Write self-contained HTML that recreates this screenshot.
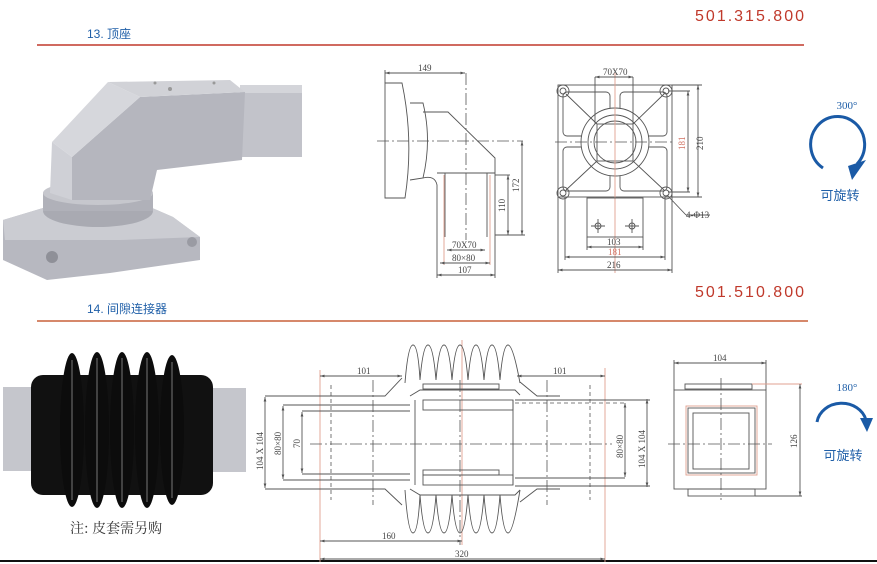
<!DOCTYPE html>
<html><head><meta charset="utf-8"><style>
html,body{margin:0;padding:0;background:#fff;}
svg{display:block;}
.d{stroke:#555;stroke-width:0.9;fill:none;}
.r{stroke:#e0a090;stroke-width:0.9;fill:none;}
.c{stroke:#555;stroke-width:0.8;fill:none;stroke-dasharray:12 3 2 3;}
.dash{stroke:#555;stroke-width:0.8;fill:none;stroke-dasharray:4 3;}
.t{font-family:"Liberation Serif",serif;font-size:9px;fill:#444;}
.tr{font-family:"Liberation Serif",serif;font-size:9px;fill:#d07060;}
</style></head><body>
<svg width="877" height="564" viewBox="0 0 877 564" xmlns="http://www.w3.org/2000/svg">
<defs>
<marker id="a" markerWidth="6" markerHeight="6" refX="5" refY="3" orient="auto-start-reverse"><path d="M0,1.5 L5,3 L0,4.5z" fill="#555"/></marker>
</defs>
<!-- headers -->
<text x="806" y="21" text-anchor="end" font-family="Liberation Sans,sans-serif" font-size="16" fill="#c0392b" letter-spacing="2">501.315.800</text>
<text x="87" y="38" font-family="Liberation Sans,'Noto Sans CJK SC',sans-serif" font-size="12" fill="#1f5fa8">13. 顶座</text>
<line x1="37" y1="45" x2="804" y2="45" stroke="#c0392b" stroke-width="1.5"/>
<text x="806" y="297" text-anchor="end" font-family="Liberation Sans,sans-serif" font-size="16" fill="#c0392b" letter-spacing="2">501.510.800</text>
<text x="87" y="313" font-family="Liberation Sans,'Noto Sans CJK SC',sans-serif" font-size="12" fill="#1f5fa8">14. 间隙连接器</text>
<line x1="37" y1="321" x2="808" y2="321" stroke="#c8603a" stroke-width="1.5"/>
<line x1="0" y1="561" x2="877" y2="561" stroke="#111" stroke-width="2"/>

<!-- photo 1 -->
<g>
<rect x="240" y="85" width="62" height="72" fill="#c2c3ca"/>
<rect x="240" y="85" width="62" height="8" fill="#d4d5da"/>
<polygon points="3,220 43,208 150,207 173,217 200,237 200,260 110,273 47,280 3,260" fill="#b7b8c0"/>
<polygon points="3,220 43,208 150,207 173,217 200,237 120,240 40,240 5,240" fill="#cbccd2"/>
<circle cx="52" cy="257" r="6" fill="#8f9098"/>
<circle cx="192" cy="242" r="5" fill="#9a9ba3"/>
<ellipse cx="98" cy="211" rx="55" ry="16" fill="#a9aab2"/>
<rect x="43" y="193" width="110" height="18" fill="#b0b1b9"/>
<ellipse cx="98" cy="193" rx="55" ry="12" fill="#c6c7cd"/>
<polygon points="52,142 72,157 72,200 50,193" fill="#cfd0d6"/>
<polygon points="140,97 245,92 242,160 157,170 150,200 72,200 72,157" fill="#b5b6be"/>
<polygon points="108,82 140,97 72,157 52,142" fill="#d6d7dc"/>
<polygon points="108,82 230,80 245,92 140,97" fill="#d1d2d7"/>
<circle cx="170" cy="89" r="2" fill="#999"/><circle cx="155" cy="83" r="1.5" fill="#999"/><circle cx="214" cy="83" r="1.5" fill="#999"/>
</g>
<!-- photo 2 -->
<g>
<rect x="3" y="387" width="32" height="84" fill="#c5c6cc"/>
<rect x="208" y="388" width="38" height="84" fill="#c5c6cc"/>
<rect x="31" y="375" width="182" height="120" rx="12" fill="#111"/>
<g fill="#0c0c0c">
<ellipse cx="72" cy="430" rx="12" ry="77"/>
<ellipse cx="97" cy="430" rx="12" ry="78"/>
<ellipse cx="122" cy="430" rx="12" ry="78"/>
<ellipse cx="147" cy="430" rx="12" ry="78"/>
<ellipse cx="172" cy="430" rx="12" ry="75"/>
</g>
<g stroke="#555" stroke-width="1.5" fill="none">
<line x1="72" y1="360" x2="72" y2="500"/><line x1="97" y1="358" x2="97" y2="502"/><line x1="122" y1="358" x2="122" y2="502"/><line x1="147" y1="358" x2="147" y2="502"/><line x1="172" y1="362" x2="172" y2="498"/>
</g>
<text x="70" y="533" font-family="'Noto Serif CJK SC',serif" font-size="14" fill="#333">注: 皮套需另购</text>
</g>

<!-- drawing 1 side view -->
<g>
<line class="d" x1="385" y1="73" x2="465" y2="73" marker-start="url(#a)" marker-end="url(#a)"/>
<line class="d" x1="385" y1="70" x2="385" y2="83"/>
<text class="t" x="418" y="71">149</text>
<path class="d" d="M385,83 L402,83 Q414,140 405,198 L385,198 Z"/>
<path class="d" d="M410,103 L423,103 Q432,140 423,178 L410,180"/>
<path class="d" d="M423,112 L448,112 L495,158 L495,237 M437,173 L495,173 M423,178 Q435,175 437,185 L437,237 M445,173 L445,237 M487,173 L487,237"/>
<line class="r" x1="444" y1="175" x2="444" y2="265"/><line class="r" x1="490" y1="175" x2="490" y2="265"/>
<line class="c" x1="377" y1="141" x2="523" y2="141"/>
<line class="c" x1="466" y1="73" x2="466" y2="240"/>
<line class="d" x1="522" y1="141" x2="522" y2="235" marker-start="url(#a)" marker-end="url(#a)"/>
<text class="t" x="0" y="0" transform="translate(519,192) rotate(-90)">172</text>
<line class="d" x1="508" y1="175" x2="508" y2="235" marker-start="url(#a)" marker-end="url(#a)"/>
<line class="d" x1="495" y1="235" x2="525" y2="235"/><line class="d" x1="495" y1="175" x2="510" y2="175"/>
<text class="t" x="0" y="0" transform="translate(505,212) rotate(-90)">110</text>
<line class="d" x1="437" y1="237" x2="437" y2="278"/><line class="d" x1="495" y1="237" x2="495" y2="278"/>
<line class="d" x1="447" y1="250" x2="485" y2="250" marker-start="url(#a)" marker-end="url(#a)"/>
<text class="t" x="452" y="248">70X70</text>
<line class="d" x1="440" y1="263" x2="490" y2="263" marker-start="url(#a)" marker-end="url(#a)"/>
<text class="t" x="452" y="261">80×80</text>
<line class="d" x1="437" y1="275" x2="495" y2="275" marker-start="url(#a)" marker-end="url(#a)"/>
<text class="t" x="458" y="273">107</text>
</g>

<!-- drawing 1 front view -->
<g>
<rect class="d" x="558" y="85" width="114" height="112"/>
<circle class="d" cx="563" cy="91" r="6"/><circle class="d" cx="563" cy="91" r="3"/>
<circle class="d" cx="666" cy="91" r="6"/><circle class="d" cx="666" cy="91" r="3"/>
<circle class="d" cx="563" cy="193" r="6"/><circle class="d" cx="563" cy="193" r="3"/>
<circle class="d" cx="666" cy="193" r="6"/><circle class="d" cx="666" cy="193" r="3"/>
<rect class="d" x="563" y="92" width="47" height="44" rx="4"/>
<rect class="d" x="620" y="92" width="47" height="44" rx="4"/>
<rect class="d" x="563" y="147" width="47" height="44" rx="4"/>
<rect class="d" x="620" y="147" width="47" height="44" rx="4"/>
<circle cx="615" cy="142" r="34" fill="#fff" stroke="#555" stroke-width="0.9"/>
<circle class="d" cx="615" cy="142" r="27"/>
<circle class="d" cx="615" cy="142" r="21"/>
<rect class="d" x="597" y="124" width="36" height="37"/>
<path class="d" d="M566,94 L597,124 M664,94 L633,124 M566,190 L597,161 M664,190 L633,161"/>
<line class="c" x1="555" y1="142" x2="675" y2="142"/>
<line class="r" x1="615" y1="73" x2="615" y2="273"/>
<rect class="d" x="587" y="198" width="56" height="39"/>
<circle class="d" cx="598" cy="226" r="3"/><path class="d" d="M598,219 V233 M591,226 H605"/>
<circle class="d" cx="632" cy="226" r="3"/><path class="d" d="M632,219 V233 M625,226 H639"/>
<line class="d" x1="595" y1="77" x2="633" y2="77" marker-start="url(#a)" marker-end="url(#a)"/>
<line class="d" x1="595" y1="77" x2="595" y2="124"/><line class="d" x1="633" y1="77" x2="633" y2="124"/>
<text class="t" x="603" y="75">70X70</text>
<line class="d" x1="672" y1="85" x2="702" y2="85"/><line class="d" x1="672" y1="197" x2="702" y2="197"/>
<line class="d" x1="668" y1="91" x2="690" y2="91"/><line class="d" x1="668" y1="192" x2="690" y2="192"/>
<line class="d" x1="688" y1="91" x2="688" y2="192" marker-start="url(#a)" marker-end="url(#a)"/>
<line class="d" x1="698" y1="85" x2="698" y2="197" marker-start="url(#a)" marker-end="url(#a)"/>
<text class="tr" x="0" y="0" transform="translate(685,150) rotate(-90)">181</text>
<text class="t" x="0" y="0" transform="translate(703,150) rotate(-90)">210</text>
<line class="d" x1="667" y1="195" x2="686" y2="215"/><line class="d" x1="686" y1="215" x2="710" y2="215"/>
<text class="t" x="686" y="218">4-Φ13</text>
<line class="d" x1="587" y1="237" x2="587" y2="250"/><line class="d" x1="643" y1="237" x2="643" y2="250"/>
<line class="d" x1="587" y1="247" x2="643" y2="247" marker-start="url(#a)" marker-end="url(#a)"/>
<text class="t" x="607" y="245">103</text>
<line class="d" x1="565" y1="197" x2="565" y2="260"/><line class="d" x1="665" y1="197" x2="665" y2="260"/>
<line class="d" x1="565" y1="257" x2="665" y2="257" marker-start="url(#a)" marker-end="url(#a)"/>
<text class="tr" x="608" y="255">181</text>
<line class="d" x1="558" y1="197" x2="558" y2="273"/><line class="d" x1="672" y1="197" x2="672" y2="273"/>
<line class="d" x1="558" y1="270" x2="672" y2="270" marker-start="url(#a)" marker-end="url(#a)"/>
<text class="t" x="607" y="268">216</text>
</g>

<!-- rotation icons -->
<g font-family="'Noto Sans CJK SC',sans-serif">
<text x="847" y="109" text-anchor="middle" font-family="Liberation Serif,serif" font-size="11" fill="#1f5fa8">300°</text>
<path d="M823,168 A27,28 0 1 1 857,164" fill="none" stroke="#1a5aa6" stroke-width="3"/>
<polygon points="848,166 866,160 852,180" fill="#1a5aa6"/>
<text x="840" y="200" text-anchor="middle" font-size="13" fill="#1f5fa8">可旋转</text>
<text x="847" y="391" text-anchor="middle" font-family="Liberation Serif,serif" font-size="11" fill="#1f5fa8">180°</text>
<path d="M817,422 A25,22 0 0 1 866,420" fill="none" stroke="#1a5aa6" stroke-width="3"/>
<polygon points="860,418 873,418 867,432" fill="#1a5aa6"/>
<text x="843" y="460" text-anchor="middle" font-size="13" fill="#1f5fa8">可旋转</text>
</g>

<!-- drawing 2 bellows -->
<g>
<line class="r" x1="320" y1="370" x2="320" y2="562"/><line class="r" x1="605" y1="368" x2="605" y2="562"/>
<line class="r" x1="462" y1="340" x2="462" y2="545"/>
<path class="d" d="M405,383 Q408,345 413,345 Q418,345 420,380 Q423,345 428,345 Q433,345 436,380 Q439,345 444,345 Q449,345 452,380 Q455,345 460,345 Q465,345 468,380 Q471,345 476,345 Q481,345 484,380 Q487,345 492,345 Q497,345 500,380 Q503,345 508,345 Q513,345 520,383"/>
<path class="d" d="M405,490 Q408,533 413,533 Q418,533 420,495 Q423,533 428,533 Q433,533 436,495 Q439,533 444,533 Q449,533 452,495 Q455,533 460,533 Q465,533 468,495 Q471,533 476,533 Q481,533 484,495 Q487,533 492,533 Q497,533 500,495 Q503,533 508,533 Q513,533 520,490"/>
<path class="d" d="M265,396 L385,396 L402,378 M265,489 L385,489 L402,505 M283,405 L410,405 M283,480 L410,480 M302,411 L410,411 M302,474 L410,474"/>
<path class="d" d="M410,396 L420,390 L515,390 L520,395 M410,489 L420,495 L515,495 L520,490"/>
<rect class="d" x="423" y="384" width="76" height="5"/><rect class="d" x="423" y="470" width="76" height="5"/>
<rect class="d" x="423" y="400" width="90" height="10"/><rect class="d" x="423" y="475" width="90" height="10"/>
<path class="d" d="M415,400 L415,485 M513,400 L513,485"/>
<path class="d" d="M515,400 L650,400 M515,486 L650,486 M515,478 L625,478 M520,382 L537,396 L560,396 M520,502 L537,489 L560,489"/>
<line class="dash" x1="515" y1="403" x2="625" y2="403"/><line class="dash" x1="283" y1="405" x2="410" y2="405"/>
<line class="dash" x1="331" y1="385" x2="331" y2="500"/><line class="dash" x1="590" y1="385" x2="590" y2="500"/>
<line class="c" x1="373" y1="380" x2="373" y2="505"/><line class="c" x1="547" y1="380" x2="547" y2="505"/>
<line class="c" x1="460" y1="380" x2="460" y2="545"/>
<line class="c" x1="310" y1="444" x2="612" y2="444"/>
<line class="d" x1="320" y1="376" x2="402" y2="376" marker-start="url(#a)" marker-end="url(#a)"/>
<text class="t" x="357" y="374">101</text>
<line class="d" x1="517" y1="376" x2="605" y2="376" marker-start="url(#a)" marker-end="url(#a)"/>
<text class="t" x="553" y="374">101</text>
<line class="d" x1="265" y1="397" x2="265" y2="488" marker-start="url(#a)" marker-end="url(#a)"/>
<text class="t" x="0" y="0" transform="translate(263,470) rotate(-90)">104 X 104</text>
<line class="d" x1="283" y1="406" x2="283" y2="479" marker-start="url(#a)" marker-end="url(#a)"/>
<text class="t" x="0" y="0" transform="translate(281,455) rotate(-90)">80×80</text>
<line class="d" x1="302" y1="412" x2="302" y2="473" marker-start="url(#a)" marker-end="url(#a)"/>
<text class="t" x="0" y="0" transform="translate(300,448) rotate(-90)">70</text>
<line class="d" x1="625" y1="403" x2="625" y2="477" marker-start="url(#a)" marker-end="url(#a)"/>
<text class="t" x="0" y="0" transform="translate(623,458) rotate(-90)">80×80</text>
<line class="d" x1="647" y1="399" x2="647" y2="487" marker-start="url(#a)" marker-end="url(#a)"/>
<text class="t" x="0" y="0" transform="translate(645,468) rotate(-90)">104 X 104</text>
<line class="d" x1="320" y1="541" x2="462" y2="541" marker-start="url(#a)" marker-end="url(#a)"/>
<text class="t" x="382" y="539">160</text>
<line class="d" x1="320" y1="559" x2="605" y2="559" marker-start="url(#a)" marker-end="url(#a)"/>
<text class="t" x="455" y="557">320</text>
</g>

<!-- drawing 2 side -->
<g>
<line class="d" x1="674" y1="363" x2="766" y2="363" marker-start="url(#a)" marker-end="url(#a)"/>
<line class="d" x1="674" y1="360" x2="674" y2="390"/><line class="d" x1="766" y1="360" x2="766" y2="390"/>
<text class="t" x="713" y="361">104</text>
<rect class="d" x="685" y="384" width="67" height="5"/>
<rect class="d" x="674" y="390" width="92" height="99"/>
<rect class="r" x="686" y="406" width="71" height="69"/>
<rect class="d" x="688" y="408" width="67" height="65"/>
<rect class="d" x="693" y="413" width="56" height="56"/>
<rect class="d" x="688" y="489" width="67" height="7"/>
<line class="c" x1="668" y1="444" x2="772" y2="444"/>
<line class="c" x1="721" y1="378" x2="721" y2="500"/>
<line class="r" x1="752" y1="384" x2="802" y2="384"/><line class="d" x1="755" y1="496" x2="802" y2="496"/>
<line class="d" x1="800" y1="384" x2="800" y2="496" marker-start="url(#a)" marker-end="url(#a)"/>
<text class="t" x="0" y="0" transform="translate(797,448) rotate(-90)">126</text>
</g>
</svg>
</body></html>
